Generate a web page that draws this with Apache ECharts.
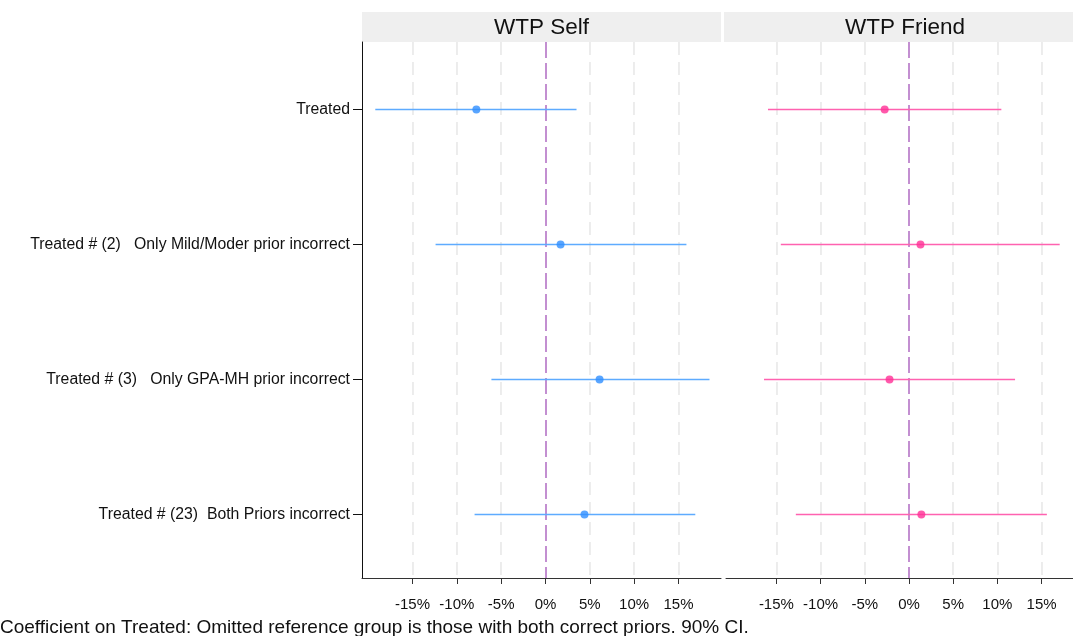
<!DOCTYPE html>
<html>
<head>
<meta charset="utf-8">
<script src="https://cdn.jsdelivr.net/npm/echarts@6/dist/echarts.min.js"></script>
<style>
  html, body { margin: 0; padding: 0; background: #fff; }
  #chart { width: 1073px; height: 636px; }
</style>
</head>
<body>
<div id="chart"></div>
<script>
// Row labels (top to bottom)
const categories = [
  'Treated',
  'Treated # (2)   Only Mild/Moder prior incorrect',
  'Treated # (3)   Only GPA-MH prior incorrect',
  'Treated # (23)  Both Priors incorrect'
];
const panelTitles = ['WTP Self', 'WTP Friend'];

// Coefficients and 90% CI bounds, in percent
const selfCoef = [-7.8, 1.7, 6.1, 4.4];
const selfLo   = [-19.2, -12.4, -6.1, -8.0];
const selfHi   = [3.5, 15.9, 18.5, 16.9];

const friendCoef = [-2.75, 1.3, -2.2, 1.4];
const friendLo   = [-15.95, -14.5, -16.4, -12.8];
const friendHi   = [10.45, 17.05, 12.0, 15.6];

const xTicks = [-15, -10, -5, 0, 5, 10, 15];
const rowValues = [1, 2, 3, 4];

const caption = 'Coefficient on Treated: Omitted reference group is those with both correct priors. 90% CI.';

const FONT = 'Arial, "Liberation Sans", sans-serif';

const chart = echarts.init(document.getElementById('chart'), null, { renderer: 'canvas' });

function ciData(lo, hi) {
  return lo.map((l, i) => [rowValues[i], l, hi[i]]);
}
function pointData(coef) {
  return coef.map((c, i) => [c, rowValues[i]]);
}
function ciSeries(idx, lo, hi, color) {
  return {
    type: 'custom',
    xAxisIndex: idx, yAxisIndex: idx,
    data: ciData(lo, hi),
    encode: { x: [1, 2], y: 0 },
    z: 3,
    clip: false,
    renderItem: function (params, api) {
      const y = api.value(0);
      const a = api.coord([api.value(1), y]);
      const b = api.coord([api.value(2), y]);
      return {
        type: 'line',
        shape: { x1: a[0], y1: a[1], x2: b[0], y2: b[1] },
        style: { stroke: color, lineWidth: 1.6 }
      };
    },
    markLine: {
      silent: true, symbol: 'none', z: 1,
      label: { show: false },
      lineStyle: { color: '#ebebeb', type: [13, 7], width: 1.8 },
      data: xTicks.filter(v => v !== 0).map(v => ({ xAxis: v }))
    }
  };
}
function pointSeries(idx, coef, color) {
  return {
    type: 'scatter',
    xAxisIndex: idx, yAxisIndex: idx,
    data: pointData(coef),
    symbol: 'circle', symbolSize: 8,
    itemStyle: { color: color },
    z: 5,
    markLine: {
      silent: true, symbol: 'none', z: 2,
      label: { show: false },
      lineStyle: { color: '#b574c6', type: [16, 5], width: 1.6 },
      data: [{ xAxis: 0 }]
    }
  };
}
function xAxis(idx) {
  return {
    type: 'value', gridIndex: idx,
    min: -20.7, max: 19.8,
    axisLine: { show: true, onZero: false, lineStyle: { color: '#333', width: 1 } },
    axisTick: { show: true, customValues: xTicks, length: 6, lineStyle: { color: '#333' } },
    axisLabel: {
      customValues: xTicks,
      formatter: v => v + '%',
      color: '#111', fontSize: 15, fontFamily: FONT, margin: 19
    },
    splitLine: { show: false }
  };
}
function yAxis(idx, showLine) {
  return {
    type: 'value', gridIndex: idx,
    min: 0.5, max: 4.47, inverse: true,
    axisLine: { show: showLine, onZero: false, lineStyle: { color: '#111', width: 1 } },
    axisTick: { show: showLine, customValues: rowValues, length: 9, lineStyle: { color: '#111' } },
    axisLabel: {
      show: showLine,
      customValues: rowValues,
      formatter: v => categories[Math.round(v) - 1] || '',
      color: '#111', fontSize: 15.8, fontFamily: FONT, margin: 12
    },
    splitLine: { show: false }
  };
}

const option = {
  backgroundColor: '#ffffff',
  animation: false,
  grid: [
    { left: 362, top: 42, width: 359, height: 536, outerBoundsMode: 'none', containLabel: false },
    { left: 726, top: 42, width: 358, height: 536, outerBoundsMode: 'none', containLabel: false }
  ],
  xAxis: [xAxis(0), xAxis(1)],
  yAxis: [yAxis(0, true), yAxis(1, false)],
  graphic: [
    { type: 'rect', left: 362, top: 12, shape: { width: 359, height: 30 }, style: { fill: '#efefef' }, z: 0 },
    { type: 'rect', left: 724, top: 12, shape: { width: 362, height: 30 }, style: { fill: '#efefef' }, z: 0 },
    { type: 'text', x: 541.5, y: 28, style: { text: panelTitles[0], font: '22.5px ' + FONT, fill: '#111', align: 'center', verticalAlign: 'middle' }, z: 10 },
    { type: 'text', x: 905, y: 28, style: { text: panelTitles[1], font: '22.5px ' + FONT, fill: '#111', align: 'center', verticalAlign: 'middle' }, z: 10 },
    { type: 'text', x: 0, y: 628, style: { text: caption, font: '19px ' + FONT, fill: '#111', align: 'left', verticalAlign: 'middle' }, z: 10 }
  ],
  series: [
    ciSeries(0, selfLo, selfHi, '#5eabff'),
    pointSeries(0, selfCoef, '#2f8fff'),
    ciSeries(1, friendLo, friendHi, '#ff62b0'),
    pointSeries(1, friendCoef, '#ff2f96')
  ]
};

chart.setOption(option);
</script>
</body>
</html>
